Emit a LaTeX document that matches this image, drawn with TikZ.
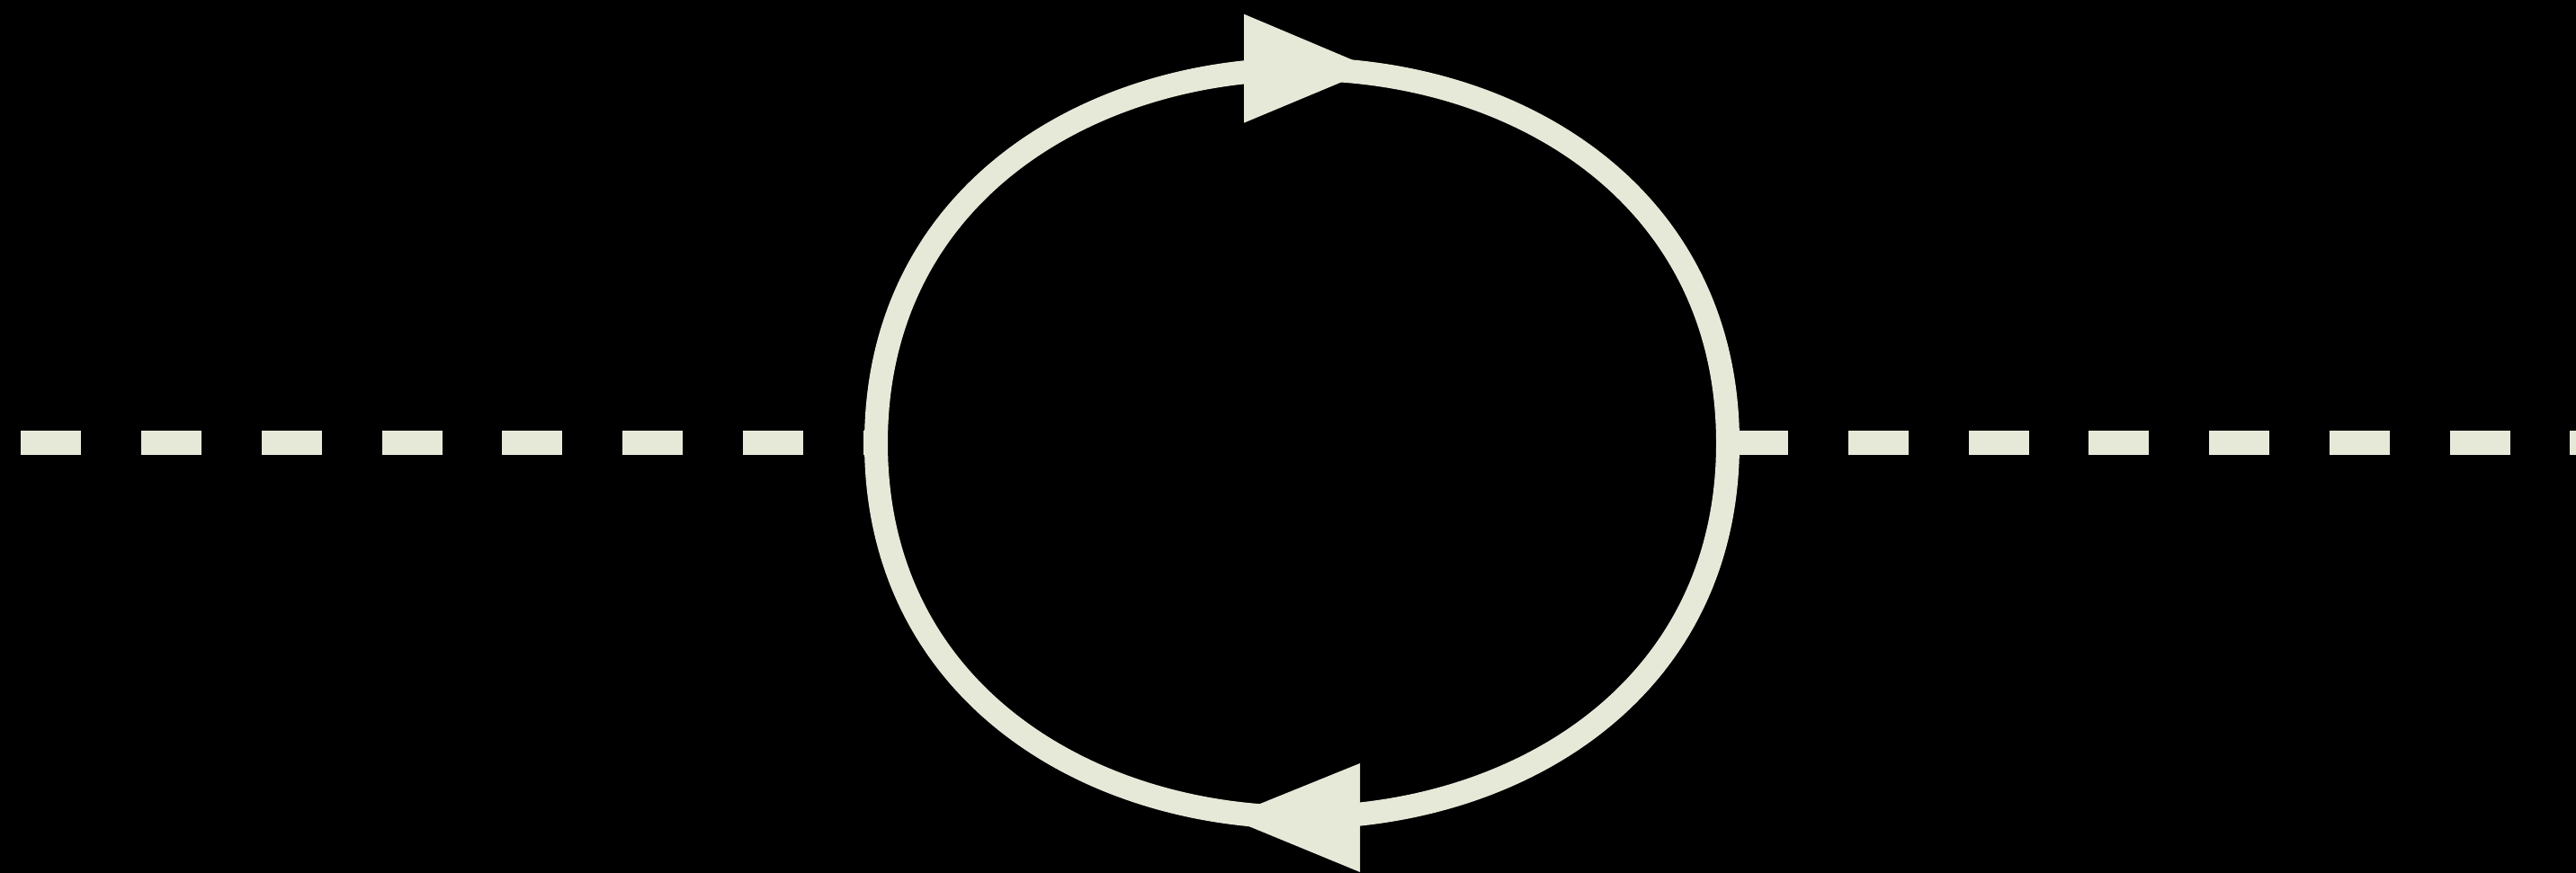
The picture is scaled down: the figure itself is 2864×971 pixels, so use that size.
\documentclass[tikz,border=0pt]{standalone}
\definecolor{ln}{HTML}{E6E9D8}
\begin{document}
\begin{tikzpicture}[x=0.01cm,y=0.01cm,
  scalar/.style={draw=ln,line width=0.27cm,line cap=butt,dash pattern=on 0.67cm off 0.6667cm},
  fermion/.style={draw=ln,line width=0.26cm},
  tipfill/.style={fill=ln}]
\useasboundingbox (0,0) rectangle (2864,971);
\fill[black] (0,0) rectangle (2864,971);
\clip (0,0) rectangle (2864,971);
\coordinate (a) at (23.3,478);
\coordinate (v1) at (974,478);
\coordinate (v2) at (1921,478);
\coordinate (b) at (2872,478);
\draw[scalar] (a) -- (v1);
\draw[scalar] (v2) -- (b);
\draw[fermion] (v1) .. controls (974,1032.7) and (1921,1032.7) .. (v2);
\draw[fermion] (v2) .. controls (1921,-76.7) and (974,-76.7) .. (v1);
\fill[tipfill] (1383,955.3) -- (1527,894.5) -- (1383,834.3) -- cycle;
\fill[tipfill] (1512,122) -- (1364,62) -- (1512,1) -- cycle;
\end{tikzpicture}
\end{document}
